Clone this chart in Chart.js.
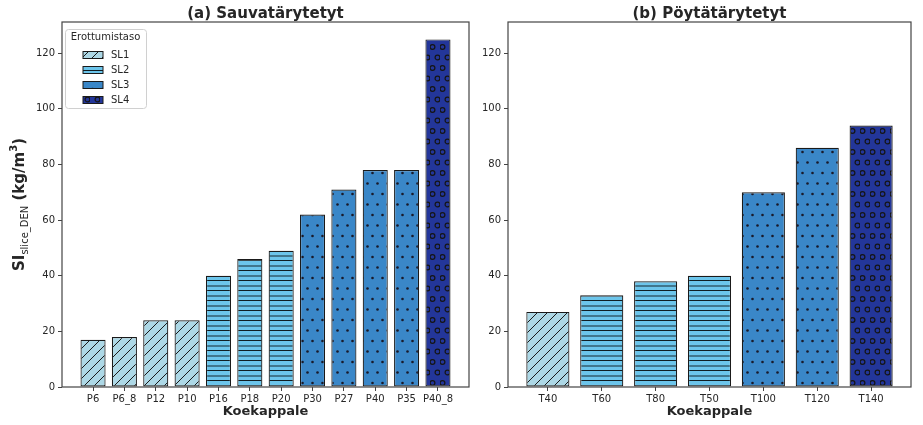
<!DOCTYPE html>
<html>
<head>
<meta charset="utf-8">
<script src="https://cdn.jsdelivr.net/npm/chart.js@4.4.0/dist/chart.umd.min.js"></script>
<style>
  body { margin: 0; background: #fff; }
  #wrap { position: relative; width: 923px; height: 425px; }
  #left { position: absolute; left: 0; top: 0; }
  #right { position: absolute; left: 480px; top: 0; }
</style>
</head>
<body>
<div id="wrap">
  <canvas id="left" width="480" height="425"></canvas>
  <canvas id="right" width="443" height="425"></canvas>
</div>
<script>
// Data
const rodLabels = ['P6', 'P6_8', 'P12', 'P10', 'P16', 'P18', 'P20', 'P30', 'P27', 'P40', 'P35', 'P40_8'];
const rodValues = [17, 18, 24, 24, 40, 46, 49, 62, 71, 78, 78, 125];
const rodLevels = [1, 1, 1, 1, 2, 2, 2, 3, 3, 3, 3, 4];

const tableLabels = ['T40', 'T60', 'T80', 'T50', 'T100', 'T120', 'T140'];
const tableValues = [27, 33, 38, 40, 70, 86, 94];
const tableLevels = [1, 2, 2, 2, 3, 3, 4];

const levelNames = ['SL1', 'SL2', 'SL3', 'SL4'];
const yTicks = [0, 20, 40, 60, 80, 100, 120];

const FONT = "'DejaVu Sans', sans-serif";
const TEXT = '#262626';
const SPINE = '#444';
const levelColors = { 1: '#ADD8E6', 2: '#6CC5EB', 3: '#3A87C8', 4: '#23369A' };

// Hatch patterns (matplotlib style: //, --, ., o)
function makePattern(level) {
    const c = document.createElement('canvas');
    const g = c.getContext('2d');
    if (level === 1) {
        const s = 10;
        c.width = s; c.height = s;
        g.fillStyle = levelColors[1];
        g.fillRect(0, 0, s, s);
        g.strokeStyle = '#1a1a1a';
        g.lineWidth = 1;
        [[0, s, s, 0], [-2, 2, 2, -2], [s - 2, s + 2, s + 2, s - 2]].forEach(l => {
            g.beginPath(); g.moveTo(l[0], l[1]); g.lineTo(l[2], l[3]); g.stroke();
        });
    } else if (level === 2) {
        c.width = 10; c.height = 10;
        g.fillStyle = levelColors[2];
        g.fillRect(0, 0, 10, 10);
        g.fillStyle = 'rgba(0,0,0,0.85)';
        g.fillRect(0, 0, 10, 1);
        g.fillStyle = 'rgba(0,0,0,0.4)';
        g.fillRect(0, 5, 10, 2);
    } else if (level === 3) {
        c.width = 10; c.height = 21;
        g.fillStyle = levelColors[3];
        g.fillRect(0, 0, 10, 21);
        g.fillStyle = '#1a1a2a';
        [[2.5, 5], [7.5, 15.5]].forEach(p => {
            g.beginPath(); g.arc(p[0], p[1], 1.3, 0, Math.PI * 2); g.fill();
        });
    } else {
        c.width = 10; c.height = 21;
        g.fillStyle = levelColors[4];
        g.fillRect(0, 0, 10, 21);
        g.strokeStyle = '#151515';
        g.lineWidth = 1.2;
        [[2.5, 5], [7.5, 15.5]].forEach(p => {
            g.beginPath(); g.arc(p[0], p[1], 2.4, 0, Math.PI * 2); g.stroke();
        });
    }
    return g.createPattern(c, 'repeat');
}

const patterns = {};
[1, 2, 3, 4].forEach(l => { patterns[l] = makePattern(l); });

const yMax = Math.max(...rodValues, ...tableValues) * 1.05;

// Frame around plot area
const framePlugin = {
    id: 'frame',
    afterDraw(chart) {
        const a = chart.chartArea;
        const ctx = chart.ctx;
        ctx.save();
        ctx.strokeStyle = SPINE;
        ctx.lineWidth = 1.2;
        ctx.strokeRect(a.left, a.top, a.right - a.left, a.bottom - a.top);
        ctx.restore();
    }
};

// Legend drawn inside the plot area
const legendPlugin = {
    id: 'levelLegend',
    afterDraw(chart) {
        const a = chart.chartArea;
        const ctx = chart.ctx;
        const x = a.left + 3, y = a.top + 7, w = 81, h = 79;
        ctx.save();
        ctx.fillStyle = 'rgba(255,255,255,0.85)';
        ctx.strokeStyle = '#d0d0d0';
        ctx.lineWidth = 1;
        ctx.beginPath();
        ctx.roundRect(x + 0.5, y + 0.5, w, h, 3);
        ctx.fill();
        ctx.stroke();
        ctx.fillStyle = TEXT;
        ctx.font = '10px ' + FONT;
        ctx.textBaseline = 'middle';
        ctx.textAlign = 'center';
        ctx.fillText('Erottumistaso', x + w / 2, y + 8);
        ctx.textAlign = 'left';
        levelNames.forEach((name, i) => {
            const ry = y + 26 + i * 15;
            ctx.fillStyle = patterns[i + 1];
            ctx.fillRect(x + 18, ry - 3.5, 20, 7);
            ctx.strokeStyle = '#1a1a1a';
            ctx.strokeRect(x + 18, ry - 3.5, 20, 7);
            ctx.fillStyle = TEXT;
            ctx.fillText(name, x + 46, ry);
        });
        ctx.restore();
    }
};

// Y axis title with subscript and superscript
const yTitlePlugin = {
    id: 'yTitle',
    afterDraw(chart) {
        const a = chart.chartArea;
        const ctx = chart.ctx;
        const parts = [
            { t: 'SI', f: 'bold 15px ' + FONT, dy: 0 },
            { t: 'slice_DEN', f: '10px ' + FONT, dy: 4 },
            { t: ' (kg/m', f: 'bold 15px ' + FONT, dy: 0 },
            { t: '3', f: 'bold 10px ' + FONT, dy: -7 },
            { t: ')', f: 'bold 15px ' + FONT, dy: 0 }
        ];
        let total = 0;
        parts.forEach(p => { ctx.font = p.f; p.w = ctx.measureText(p.t).width; total += p.w; });
        ctx.save();
        ctx.translate(24, (a.top + a.bottom) / 2);
        ctx.rotate(-Math.PI / 2);
        ctx.fillStyle = TEXT;
        ctx.textBaseline = 'alphabetic';
        let cx = -total / 2;
        parts.forEach(p => {
            ctx.font = p.f;
            ctx.fillText(p.t, cx, p.dy);
            cx += p.w;
        });
        ctx.restore();
    }
};

function buildChart(canvasId, title, labels, values, levels, yAxisWidth, padRight, extraPlugins) {
    const n = labels.length;
    const span = (n - 1) + 0.8;
    const data = values.map((v, i) => ({ x: i, y: v }));
    return new Chart(document.getElementById(canvasId), {
        type: 'bar',
        data: {
            datasets: [{
                data: data,
                backgroundColor: levels.map(l => patterns[l]),
                borderColor: '#1a1a1a',
                borderWidth: 1.2,
                borderSkipped: false,
                categoryPercentage: 0.8,
                barPercentage: 1.0
            }]
        },
        options: {
            responsive: false,
            animation: false,
            layout: { padding: { left: 0, right: padRight, top: 3, bottom: 0 } },
            plugins: {
                legend: { display: false },
                tooltip: { enabled: false },
                title: {
                    display: true,
                    text: title,
                    fullSize: false,
                    color: TEXT,
                    font: { family: FONT, size: 15, weight: 'bold', lineHeight: 1 },
                    padding: { top: 4, bottom: 0 }
                }
            },
            scales: {
                x: {
                    type: 'linear',
                    offset: false,
                    min: -0.4 - 0.05 * span,
                    max: (n - 1) + 0.4 + 0.05 * span,
                    afterBuildTicks: (scale) => { scale.ticks = labels.map((_, i) => ({ value: i })); },
                    afterFit: (scale) => { scale.height = 38; },
                    grid: { display: true, offset: false, drawOnChartArea: false, drawTicks: true, tickLength: 4, color: SPINE },
                    border: { display: false },
                    ticks: {
                        autoSkip: false,
                        maxRotation: 0,
                        padding: 2,
                        color: TEXT,
                        font: { family: FONT, size: 10 },
                        callback: (v) => labels[v]
                    },
                    title: {
                        display: true,
                        text: 'Koekappale',
                        color: TEXT,
                        font: { family: FONT, size: 13, weight: 'bold', lineHeight: 1.2 },
                        padding: { top: 0, bottom: 6 }
                    }
                },
                y: {
                    min: 0,
                    max: yMax,
                    afterBuildTicks: (scale) => { scale.ticks = yTicks.map(v => ({ value: v })); },
                    afterFit: (scale) => { scale.width = yAxisWidth; },
                    grid: { display: true, drawOnChartArea: false, drawTicks: true, tickLength: 4, color: SPINE },
                    border: { display: false },
                    ticks: {
                        padding: 3,
                        color: TEXT,
                        font: { family: FONT, size: 10 }
                    }
                }
            }
        },
        plugins: [framePlugin].concat(extraPlugins)
    });
}

buildChart('left', '(a) Sauvatärytetyt', rodLabels, rodValues, rodLevels, 62, 11, [legendPlugin, yTitlePlugin]);
buildChart('right', '(b) Pöytätärytetyt', tableLabels, tableValues, tableLevels, 28, 12, []);
</script>
</body>
</html>
